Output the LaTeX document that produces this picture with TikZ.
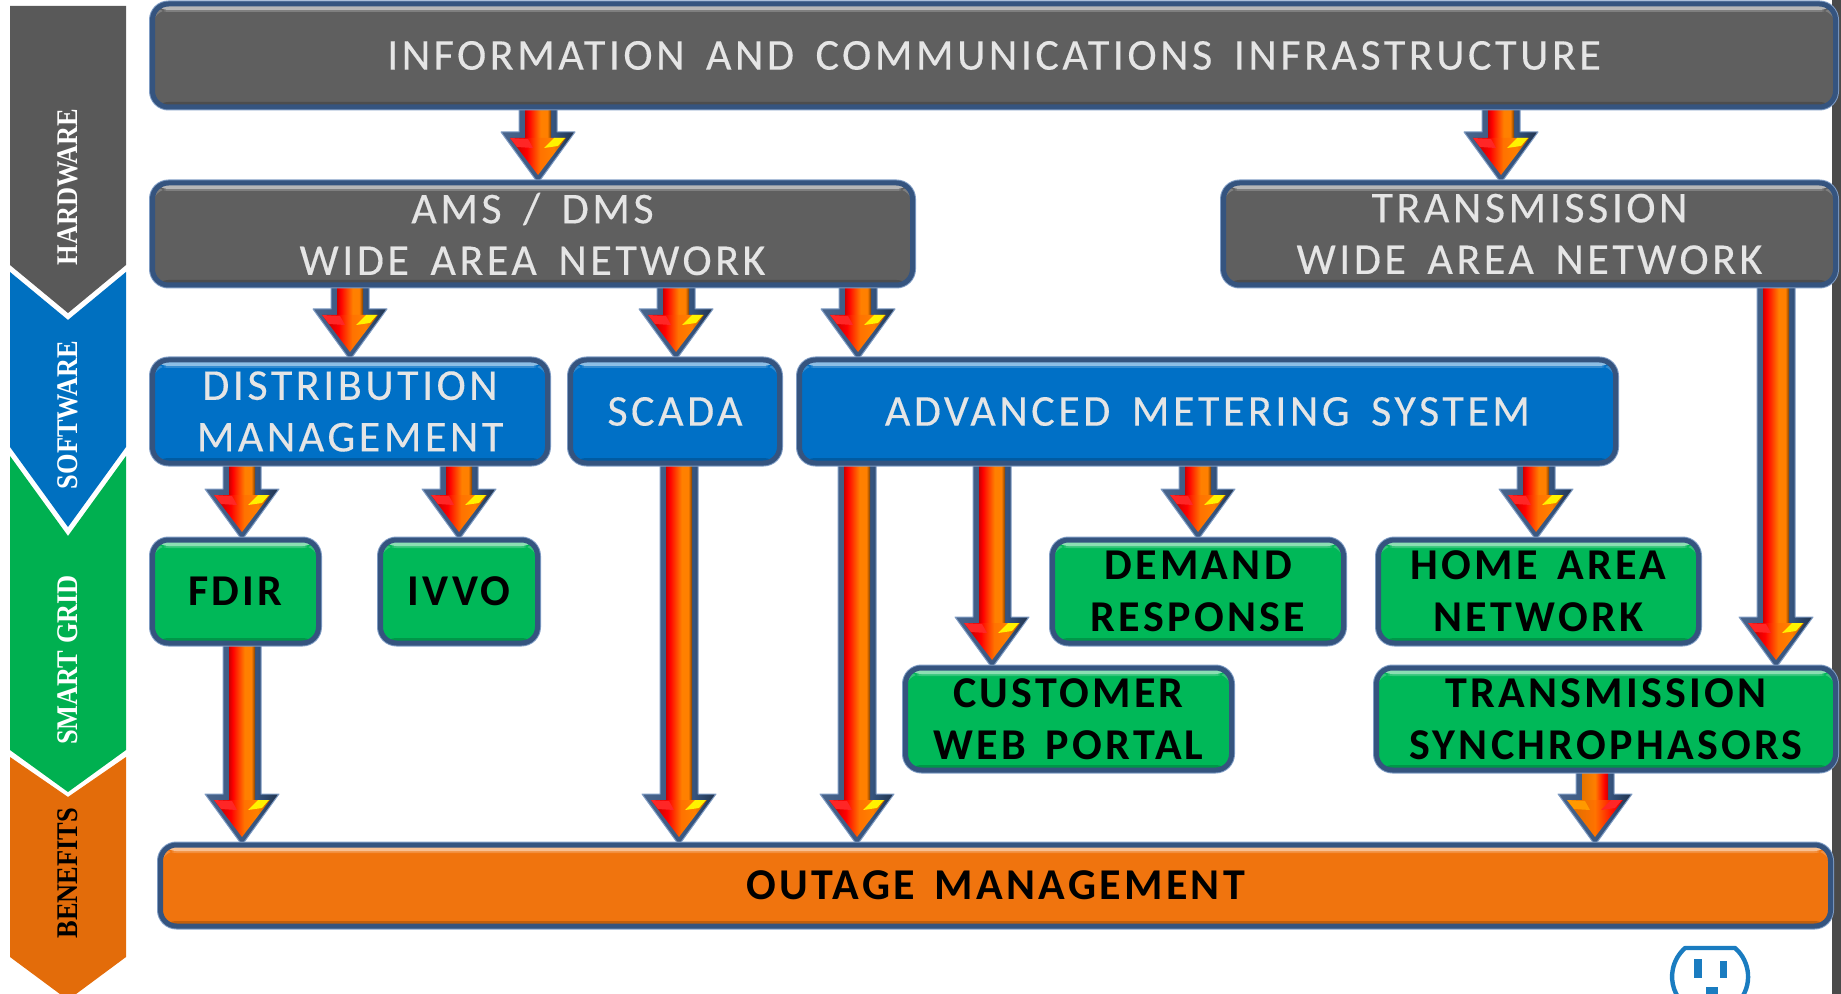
\documentclass[tikz,border=0pt]{standalone}
\usepackage{fontspec}
\usetikzlibrary{calc}
\setmainfont{Carlito}
\newfontfamily\boxfont[LetterSpace=8,WordSpace=1.6,FakeBold=0.3]{Carlito}
\newfontfamily\boldboxfont[LetterSpace=7.5,WordSpace=1.5,BoldFont={Carlito Bold}]{Carlito}
\newfontfamily\bandfont[FakeStretch=0.88]{Liberation Serif}
\definecolor{framedark}{HTML}{35547F}
\definecolor{framelight}{HTML}{7F9CC4}
\definecolor{boxgray}{HTML}{5F5F5F}
\definecolor{boxblue}{HTML}{0070C6}
\definecolor{boxgreen}{HTML}{00B858}
\definecolor{boxorange}{HTML}{F0740E}
\definecolor{bandgray}{HTML}{595959}
\definecolor{bandblue}{HTML}{0070C0}
\definecolor{bandgreen}{HTML}{00B050}
\definecolor{bandorange}{HTML}{E36C0A}
\definecolor{plugblue}{HTML}{1A7CC0}
\definecolor{edgegray}{HTML}{4A4A4A}
\pgfdeclarelayer{flowlayer}
\pgfsetlayers{flowlayer,main}
\pgfdeclarehorizontalshading{edgeshade}{100bp}{color(0bp)=(framedark!90!white); color(25bp)=(framedark!90!white); color(60bp)=(framedark); color(75bp)=(framedark!60!black); color(100bp)=(framedark!60!black)}
\pgfdeclarehorizontalshading{flowshaft}{100bp}{color(0bp)=(red!80!black); color(25bp)=(red!80!black); color(32bp)=(red); color(55bp)=(orange!100!red); color(68bp)=(orange); color(75bp)=(orange!50!black); color(100bp)=(orange!50!black)}
\pgfdeclarehorizontalshading{flowhead}{100bp}{color(0bp)=(red!70!black); color(25bp)=(red!70!black); color(40bp)=(red); color(52bp)=(orange!90!red); color(64bp)=(orange); color(75bp)=(orange!70!black); color(100bp)=(orange!70!black)}
\pgfdeclarehorizontalshading{flowshaftm}{100bp}{color(0bp)=(orange); color(25bp)=(orange!90!black); color(50bp)=(orange); color(68bp)=(red); color(75bp)=(red!80!black); color(100bp)=(red!80!black)}
\pgfdeclarehorizontalshading{flowheadm}{100bp}{color(0bp)=(orange); color(25bp)=(orange!85!black); color(50bp)=(orange!90!red); color(68bp)=(red); color(75bp)=(red!80!black); color(100bp)=(red!80!black)}
\tikzset{
  hub/.style={draw=framedark, line width=2.5pt, rounded corners=8pt, inner sep=0pt, outer sep=0pt, align=center,
    preaction={draw=framelight, line width=3.5pt},
    font=\boxfont\fontsize{22}{25.8}\selectfont,
    path picture={
      \fill[white,opacity=.55] ($(path picture bounding box.north west)+(0,2)$) rectangle ($(path picture bounding box.north east)+(0,6)$);
      \fill[white,opacity=.2] ($(path picture bounding box.north west)+(0,6)$) rectangle ($(path picture bounding box.north east)+(0,8)$);
      \fill[black,opacity=.18] ($(path picture bounding box.south west)+(0,-5)$) rectangle (path picture bounding box.south east);
    }},
  graybox/.style={hub, fill=boxgray, text=white!90!black},
  bluebox/.style={hub, fill=boxblue, text=white!90!black},
  greenbox/.style={hub, fill=boxgreen, text=black, font=\boldboxfont\bfseries\fontsize{22}{25.8}\selectfont},
  orangebox/.style={hub, fill=boxorange, text=black, font=\boldboxfont\bfseries\fontsize{22}{25.8}\selectfont},
  bandtext/.style={rotate=90, font=\bandfont\bfseries\fontsize{15}{18}\selectfont, inner sep=0pt},
  flowedge/.style={shading=edgeshade, draw=framelight, line width=.5pt, line join=round},
  shaftshade/.style={shading=flowshaft},
  headshade/.style={shading=flowhead},
  hileft/.style={fill=red!85!white},
  hiright/.style={fill=yellow},
  mirrored/.style={shaftshade/.style={shading=flowshaftm}, headshade/.style={shading=flowheadm},
    hileft/.style={fill=orange!80!yellow}, hiright/.style={fill=red!85!white}},
}
\newcommand{\flow}[4][]{%
  \begin{scope}[#1]
  \coordinate (fs) at (#4,0 |- #2.south);
  \coordinate (ft) at (#4,0 |- #3.north);
  \path[flowedge] ($(fs)+(-19,0)$) -- ($(ft)+(-19,-51)$) -- ($(ft)+(-37,-51)$) -- (ft) -- ($(ft)+(37,-51)$) -- ($(ft)+(19,-51)$) -- ($(fs)+(19,0)$) -- cycle;
  \shade[shaftshade] ($(fs)+(-13,0)$) rectangle ($(ft)+(13,-44)$);
  \shade[headshade] ($(ft)+(-28,-45)$) -- ($(ft)+(28,-45)$) -- ($(ft)+(0,-8)$) -- cycle;
  \fill[hileft] ($(ft)+(-28,-45)$) -- ($(ft)+(-10,-44)$) -- ($(ft)+(-5,-35)$) -- ($(ft)+(-21,-36)$) -- cycle;
  \fill[hiright] ($(ft)+(27,-45)$) -- ($(ft)+(16,-45)$) -- ($(ft)+(6,-35)$) -- ($(ft)+(20,-37)$) -- cycle;
  \end{scope}}
\begin{document}
\begin{tikzpicture}[x=.5pt,y=-.5pt]
\useasboundingbox (0,0) rectangle (1841,994);
\begin{scope}
\clip (0,0) rectangle (1841,994);
% right-hand gray strip
\fill[edgegray] (1832,0) rectangle (1841,994);
% left band
\fill[bandorange] (10,757) -- (68,797) -- (126,757) -- (126,957) -- (68,1000) -- (10,957) -- cycle;
\fill[bandgreen] (10,456) -- (68,536) -- (126,456) -- (126,750) -- (68,792) -- (10,750) -- cycle;
\fill[bandblue] (10,272) -- (68,320) -- (126,272) -- (126,447) -- (68,527) -- (10,447) -- cycle;
\fill[bandgray] (10,6) -- (126,6) -- (126,265) -- (68,313) -- (10,265) -- cycle;
% plug
\draw[plugblue, line width=2.2pt, line join=round] (1685,948) -- (1735,948) arc[start angle=-49, end angle=229, radius=38] -- cycle;
\fill[plugblue] (1694,959) rectangle (1702,978);
\fill[plugblue] (1720,961) rectangle (1727,978);
\fill[plugblue] (1706,987) rectangle (1718,994);
\end{scope}
\node[bandtext, text=white] (bhw) at (68,187) {HARDWARE};
\node[bandtext, text=white] (bsw) at (68,415) {SOFTWARE};
\node[bandtext, text=white] (bsg) at (68,660) {SMART GRID};
\node[bandtext, text=black] (bbn) at (68,873) {BENEFITS};
% boxes
\node[graybox, minimum width=841.5pt, minimum height=51.5pt] (ict) at (994,55.5) {INFORMATION AND COMMUNICATIONS INFRASTRUCTURE};
\node[graybox, minimum width=380pt, minimum height=51pt] (ams) at (532.5,234) {AMS / DMS\\WIDE AREA NETWORK};
\node[graybox, minimum width=306pt, minimum height=51pt] (trn) at (1529.5,234) {TRANSMISSION\\WIDE AREA NETWORK};
\node[bluebox, minimum width=197.5pt, minimum height=51.5pt] (dist) at (350,411.5) {DISTRIBUTION\\MANAGEMENT};
\node[bluebox, minimum width=104.5pt, minimum height=51.5pt] (scada) at (675,411.5) {SCADA};
\node[bluebox, minimum width=408pt, minimum height=51.5pt] (ami) at (1207.5,411.5) {ADVANCED METERING SYSTEM};
\node[greenbox, minimum width=83pt, minimum height=51.5pt] (fdir) at (235.5,591.5) {FDIR};
\node[greenbox, minimum width=78.5pt, minimum height=51.5pt] (ivvo) at (459,591.5) {IVVO};
\node[greenbox, minimum width=145.5pt, minimum height=51.5pt] (dr) at (1198,591.5) {DEMAND\\RESPONSE};
\node[greenbox, minimum width=160pt, minimum height=51.5pt] (han) at (1538.5,591.5) {HOME AREA\\NETWORK};
\node[greenbox, minimum width=163pt, minimum height=51pt] (cwp) at (1068.5,719) {CUSTOMER\\WEB PORTAL};
\node[greenbox, minimum width=229.5pt, minimum height=51pt] (syn) at (1606,719) {TRANSMISSION\\SYNCHROPHASORS};
\node[orangebox, minimum width=835pt, minimum height=40.5pt] (out) at (995.5,885.5) {OUTAGE MANAGEMENT};
% connectors, drawn beneath the boxes
\begin{pgfonlayer}{flowlayer}
\flow{ict}{ams}{538}
\flow{ict}{trn}{1501}
\flow{ams}{dist}{350}
\flow{ams}{scada}{676}
\flow{ams}{ami}{858}
\flow{dist}{fdir}{242}
\flow{dist}{ivvo}{459}
\flow{ami}{dr}{1198}
\flow{ami}{han}{1536}
\flow{ami}{cwp}{992}
\flow{trn}{syn}{1776}
\flow{fdir}{out}{242}
\flow{scada}{out}{679}
\flow{ami}{out}{857}
\flow[mirrored]{syn}{out}{1595}
\end{pgfonlayer}
\end{tikzpicture}
\end{document}
